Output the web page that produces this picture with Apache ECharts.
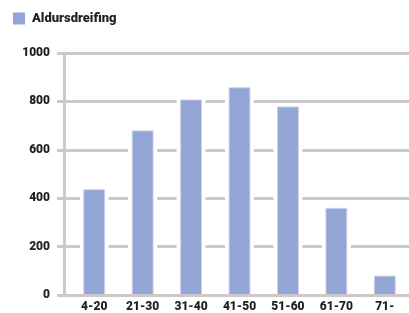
<!DOCTYPE html>
<html>
<head>
<meta charset="utf-8">
<script src="https://cdn.jsdelivr.net/npm/echarts@6/dist/echarts.min.js"></script>
<style>
    html, body { margin: 0; padding: 0; background: #fff; }
    #aldurChart { width: 409px; height: 313px; }
</style>
</head>
<body>
<div id="aldurChart"></div>
<script>
// aldurshopar og fjoldi
var categories = ['4-20', '21-30', '31-40', '41-50', '51-60', '61-70', '71-'];
var values = [435, 678, 806, 856, 777, 358, 78];
var yTicks = [0, 200, 400, 600, 800, 1000];
var seriesName = 'Aldursdreifing';

var barColor = '#93a5d4';
var gridColor = '#cdc9cb';
var labelFont = {
    color: '#231f20',
    fontWeight: 900,
    fontFamily: 'Roboto',
    fontSize: 12
};

var myChart = echarts.init(document.getElementById('aldurChart'), null, {renderer: 'canvas'});

// sula med hvitum ramma, svo linurnar stoppi adeins fra
var renderBar = function (params, api) {
    var top = api.coord([api.value(0), api.value(1)]);
    var base = api.coord([api.value(0), 0]);
    var bw = api.size([1, 0])[0] * 0.43;
    var halo = 4;
    return {
        type: 'group',
        children: [
            {
                type: 'rect',
                shape: {x: top[0] - bw / 2 - halo, y: top[1] - halo, width: bw + halo * 2, height: base[1] - top[1] + halo},
                style: {fill: '#fff'}
            },
            {
                type: 'rect',
                shape: {x: top[0] - bw / 2, y: top[1], width: bw, height: base[1] - top[1]},
                style: {fill: barColor, stroke: '#c9d1ec', lineWidth: 1}
            }
        ]
    };
};

var option = {
    animation: false,
    legend: {
        data: [seriesName],
        left: 13,
        top: 12,
        padding: 0,
        itemWidth: 12,
        itemHeight: 12,
        icon: 'rect',
        textStyle: {
            color: '#231f20',
            fontWeight: 900,
            fontFamily: 'Roboto',
            fontSize: 13,
            padding: [0, 0, 0, 2]
        }
    },
    grid: {
        left: 70,
        right: 0,
        top: 53,
        bottom: 18,
        containLabel: false
    },
    xAxis: {
        type: 'category',
        data: categories,
        z: 5,
        boundaryGap: true,
        axisLine: {lineStyle: {color: gridColor, width: 3}},
        axisTick: {show: false},
        axisLabel: Object.assign({margin: 6}, labelFont)
    },
    yAxis: [
        {
            type: 'value',
            min: yTicks[0],
            max: yTicks[yTicks.length - 1],
            interval: yTicks[1] - yTicks[0],
            offset: 6,
            z: 0,
            axisLine: {show: true, lineStyle: {color: gridColor, width: 3}},
            axisTick: {show: true, length: 7, lineStyle: {color: gridColor, width: 3}},
            axisLabel: Object.assign({margin: 14, formatter: function (v) { return String(v); }}, labelFont),
            splitLine: {show: true, lineStyle: {color: gridColor, width: 3}}
        },
        {
            // fylla bilid milli ass og grids
            type: 'value',
            position: 'left',
            min: yTicks[0],
            max: yTicks[yTicks.length - 1],
            interval: yTicks[1] - yTicks[0],
            offset: 6,
            z: 0,
            axisLine: {show: false},
            axisTick: {show: true, inside: true, length: 6, lineStyle: {color: gridColor, width: 3}},
            axisLabel: {show: false},
            splitLine: {show: false}
        }
    ],
    series: [
        {
            name: seriesName,
            type: 'custom',
            renderItem: renderBar,
            itemStyle: {color: barColor},
            encode: {x: 0, y: 1},
            data: values.map(function (v, i) { return [i, v]; })
        }
    ]
};
myChart.setOption(option);
</script>
</body>
</html>
